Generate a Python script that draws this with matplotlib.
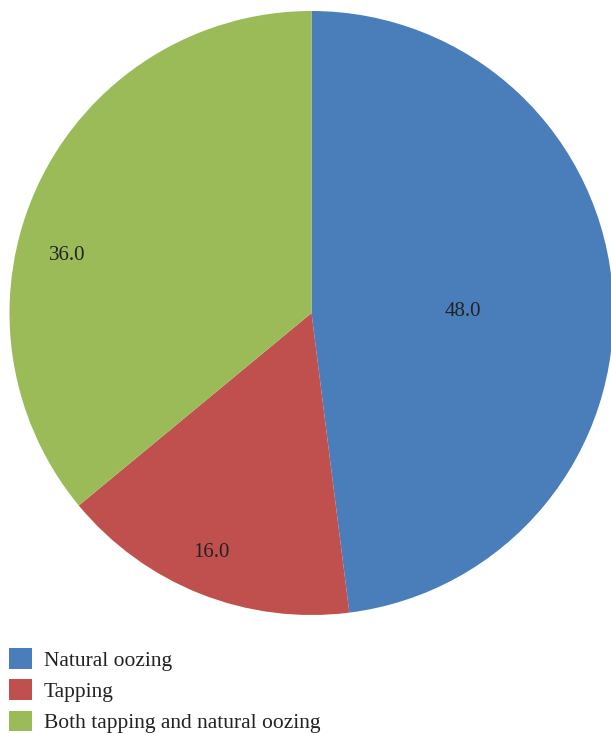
import numpy as np
import matplotlib.pyplot as plt
from matplotlib.patches import Patch

# Data
categories = ["Natural oozing", "Tapping", "Both tapping and natural oozing"]
values = [48.0, 16.0, 36.0]
colors = ["#4A7EBB", "#C0504D", "#9BBB59"]
# label placement: radial fraction and angle nudge (deg)
label_dist = [0.50, 0.86, 0.83]
label_nudge = [-3.0, -1.0, 12.0]

plt.rcParams['font.family'] = ['Liberation Serif', 'DejaVu Serif']

fig = plt.figure(figsize=(6.11, 7.33), dpi=100)
ax = fig.add_axes([9.5/611, 118/733, 604/611, 604/733])

wedges, _ = ax.pie(values, colors=colors, startangle=90, counterclock=False,
                   radius=1, center=(0, 0), frame=False)

for w, v, d, n in zip(wedges, values, label_dist, label_nudge):
    ang = np.deg2rad((w.theta1 + w.theta2) / 2 + n)
    ax.text(d*np.cos(ang), d*np.sin(ang), "%.1f" % v, ha="center", va="center",
            fontsize=15, color="#222222")

ax.set_xlim(-1, 1)
ax.set_ylim(-1, 1)
ax.set_aspect("equal")
ax.axis("off")

handles = [Patch(facecolor=c, edgecolor="none") for c in colors]
fig.legend(handles, categories, loc="lower left", bbox_to_anchor=(9/611, 0.0),
           frameon=False, fontsize=15.5, handlelength=1.07, handleheight=1.07,
           handletextpad=0.55, labelspacing=0.4, borderpad=0.0, borderaxespad=0.0,
           labelcolor="#222222")

plt.savefig("out.png", dpi=100)
